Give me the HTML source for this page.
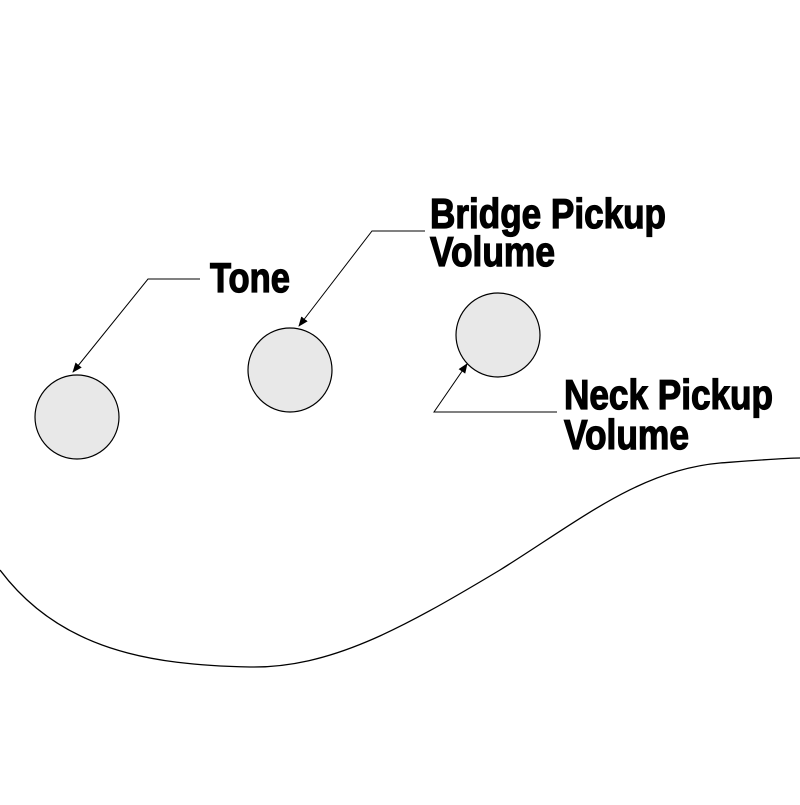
<!DOCTYPE html>
<html><head><style>html,body{margin:0;padding:0;background:#fff}</style></head>
<body>
<svg width="800" height="800" viewBox="0 0 800 800" xmlns="http://www.w3.org/2000/svg">
<defs><marker id="a" markerWidth="10" markerHeight="8" refX="9" refY="4" orient="auto" markerUnits="userSpaceOnUse"><path d="M0,0 L10,4 L0,8 Z" fill="#000"/></marker></defs>
<g fill="#e8e8e8" stroke="#000" stroke-width="1.2">
<circle cx="77" cy="417" r="42"/>
<circle cx="290" cy="370" r="42"/>
<circle cx="498" cy="335" r="42"/>
</g>
<g fill="none" stroke="#000" stroke-width="1">
<polyline points="200,279 148,279 73,372" marker-end="url(#a)"/>
<polyline points="425,231 372,231 299,326" marker-end="url(#a)"/>
<polyline points="557,412 434,412 467,364" marker-end="url(#a)"/>
<path d="M0,570 C60,650 150,665 250,667 C330,668 400,630 500,570 C580,520 640,470 720,463 C760,460 785,458 800,458" stroke-width="1.3"/>
</g>
<g font-family="'Liberation Sans Narrow','Liberation Sans',sans-serif" font-weight="bold" font-size="42" fill="#000" stroke="#000" stroke-width="1.3">
<text x="210" y="292" textLength="80" lengthAdjust="spacingAndGlyphs">Tone</text>
<text x="430" y="228" textLength="236" lengthAdjust="spacingAndGlyphs">Bridge Pickup</text>
<text x="430" y="266" textLength="125" lengthAdjust="spacingAndGlyphs">Volume</text>
<text x="564" y="409" textLength="209" lengthAdjust="spacingAndGlyphs">Neck Pickup</text>
<text x="564" y="449" textLength="125" lengthAdjust="spacingAndGlyphs">Volume</text>
</g>
</svg>
</body></html>
